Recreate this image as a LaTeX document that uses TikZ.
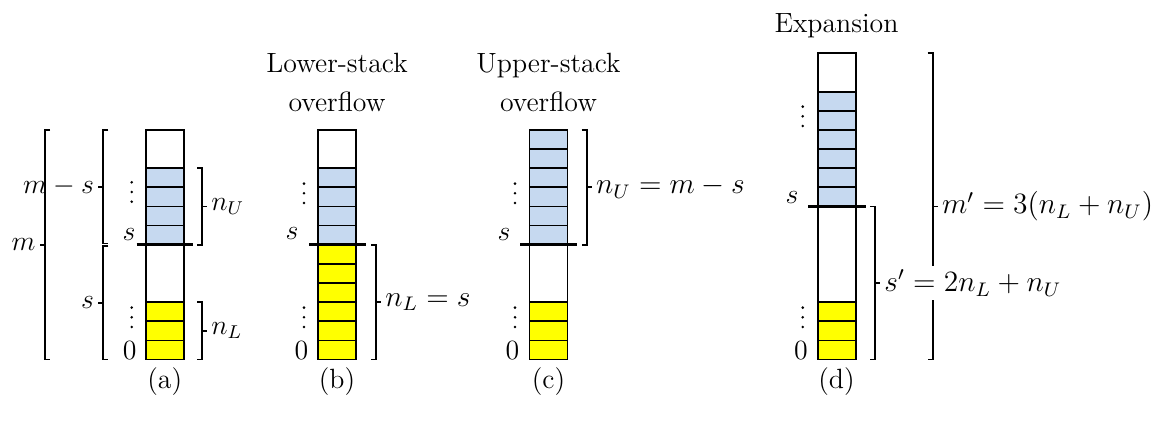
\documentclass[12pt,tikz,border=0pt]{standalone}
\usepackage{graphicx}
\usetikzlibrary{calc}
\definecolor{blu}{RGB}{198,217,240}
\definecolor{yel}{RGB}{255,255,0}
\tikzset{
  cellbox/.style={draw=black, line width=0.75pt},
  outline/.style={draw=black, line width=0.85pt},
  sline/.style={line width=1.5pt},
  brk/.style={line width=0.8pt},
  lbl/.style={inner sep=1.5pt},
  num/.style={inner sep=0pt},
  dotmark/.style={fill=black, draw=none},
}
\newcommand\hh{19.13}
% #1 left x, #2 bottom y, #3 first idx, #4 last idx, #5 colour
\newcommand\mycells[5]{%
  \foreach \i in {#3,...,#4}{%
    \filldraw[cellbox, fill=#5] (#1, #2-\i*\hh) rectangle (#1+38, #2-\i*\hh-\hh);}%
}
% vertical dots: #1 x, #2 y of lowest dot
\newcommand\vdotsat[2]{%
  \foreach \k in {0,1,2}{\fill[dotmark] (#1,#2-\k*9.7) circle[radius=0.62pt];}%
}
% right bracket: #1 x, #2 top, #3 bottom, #4 name, #5 label, #6 extra node options
\newcommand\RBr[6]{%
  \draw[brk] (#1-5,#2) -- (#1,#2) -- (#1,#3) -- (#1-5,#3);
  \draw[brk] (#1,{(#2+#3)/2}) -- (#1+5,{(#2+#3)/2})
     node[lbl, anchor=west, #6] (#4) {#5};
}
% left bracket
\newcommand\LBr[5]{%
  \draw[brk] (#1+5,#2) -- (#1,#2) -- (#1,#3) -- (#1+5,#3);
  \draw[brk] (#1,{(#2+#3)/2}) -- (#1-5,{(#2+#3)/2})
     node[lbl, anchor=east] (#4) {#5};
}
\newcommand\bigeq[1]{\scalebox{1.06}{#1}}
\begin{document}
\begin{tikzpicture}[x=0.431pt, y=-0.431pt]
\useasboundingbox (0,0) rectangle (1158,424);

% ---------------- (a) ----------------
\mycells{145.7}{359.5}{0}{2}{yel}
\mycells{145.7}{359.5}{6}{9}{blu}
\draw[outline] (145.7,359.5) rectangle (183.7,{359.5-12*\hh});
\draw[sline] (136.5,{359.5-6*\hh}) -- (193,{359.5-6*\hh});
\node[num] (as) at (129,235) {$s$};
\node[num] (a0) at (129.7,351) {$0$};
\vdotsat{131.7}{201.7}
\vdotsat{131.7}{327}
\LBr{45}{130}{359.5}{am}{$m$}
\LBr{103.3}{130}{243.5}{ams}{$m-s$}
\LBr{103.3}{246}{359.5}{aS}{$s$}
\RBr{202}{168.2}{244.7}{anu}{$n_U$}{}
\RBr{202}{302.1}{359.5}{anl}{$n_L$}{}
\node (capa) at (164.7,382) {(a)};

% ---------------- (b) ----------------
\mycells{318}{359.5}{0}{5}{yel}
\mycells{318}{359.5}{6}{9}{blu}
\draw[outline] (318,359.5) rectangle (356,{359.5-12*\hh});
\draw[sline] (309,{359.5-6*\hh}) -- (366,{359.5-6*\hh});
\node[num] (bs) at (292,234) {$s$};
\node[num] (b0) at (301.5,351) {$0$};
\vdotsat{304}{203}
\vdotsat{304}{327}
\RBr{376}{244.7}{359.5}{bnl}{\bigeq{$n_L = s$}}{}
\node[anchor=base] (bt1) at (337,73) {Lower-stack};
\node[anchor=base] (bt2) at (337,111.5) {overflow};
\node (capb) at (337,382) {(b)};

% ---------------- (c) ----------------
\mycells{529.5}{359.5}{0}{2}{yel}
\mycells{529.5}{359.5}{6}{11}{blu}
\draw[outline] (529.5,359.5) rectangle (567.5,{359.5-12*\hh});
\draw[sline] (520,{359.5-6*\hh}) -- (577.3,{359.5-6*\hh});
\node[num] (cs) at (504,235) {$s$};
\node[num] (c0) at (512.5,351) {$0$};
\vdotsat{515}{203}
\vdotsat{515}{327}
\RBr{586.7}{129.9}{244.7}{cnu}{\bigeq{$n_U = m-s$}}{}
\node[anchor=base] (ct1) at (548.5,73) {Upper-stack};
\node[anchor=base] (ct2) at (548.5,111.5) {overflow};
\node (capc) at (548.5,382) {(c)};

% ---------------- (d) ----------------
\mycells{817.7}{359.5}{0}{2}{yel}
\mycells{817.7}{359.5}{8}{13}{blu}
\draw[outline] (817.7,359.5) rectangle (855.7,{359.5-16*\hh});
\draw[sline] (808.3,{359.5-8*\hh}) -- (866,{359.5-8*\hh});
\node[num] (ds) at (792,197.5) {$s$};
\node[num] (d0) at (801,351) {$0$};
\vdotsat{802.7}{126}
\vdotsat{802.7}{327}
\RBr{932.7}{53.4}{359.5}{dm}{\bigeq{$m' = 3(n_L + n_U)$}}{}
\RBr{875}{206.5}{359.5}{dsp}{\bigeq{$s' = 2n_L + n_U$}}{fill=white}
\node[anchor=base] (dt) at (836.5,33) {Expansion};
\node (capd) at (836.5,382) {(d)};
\end{tikzpicture}
\end{document}
